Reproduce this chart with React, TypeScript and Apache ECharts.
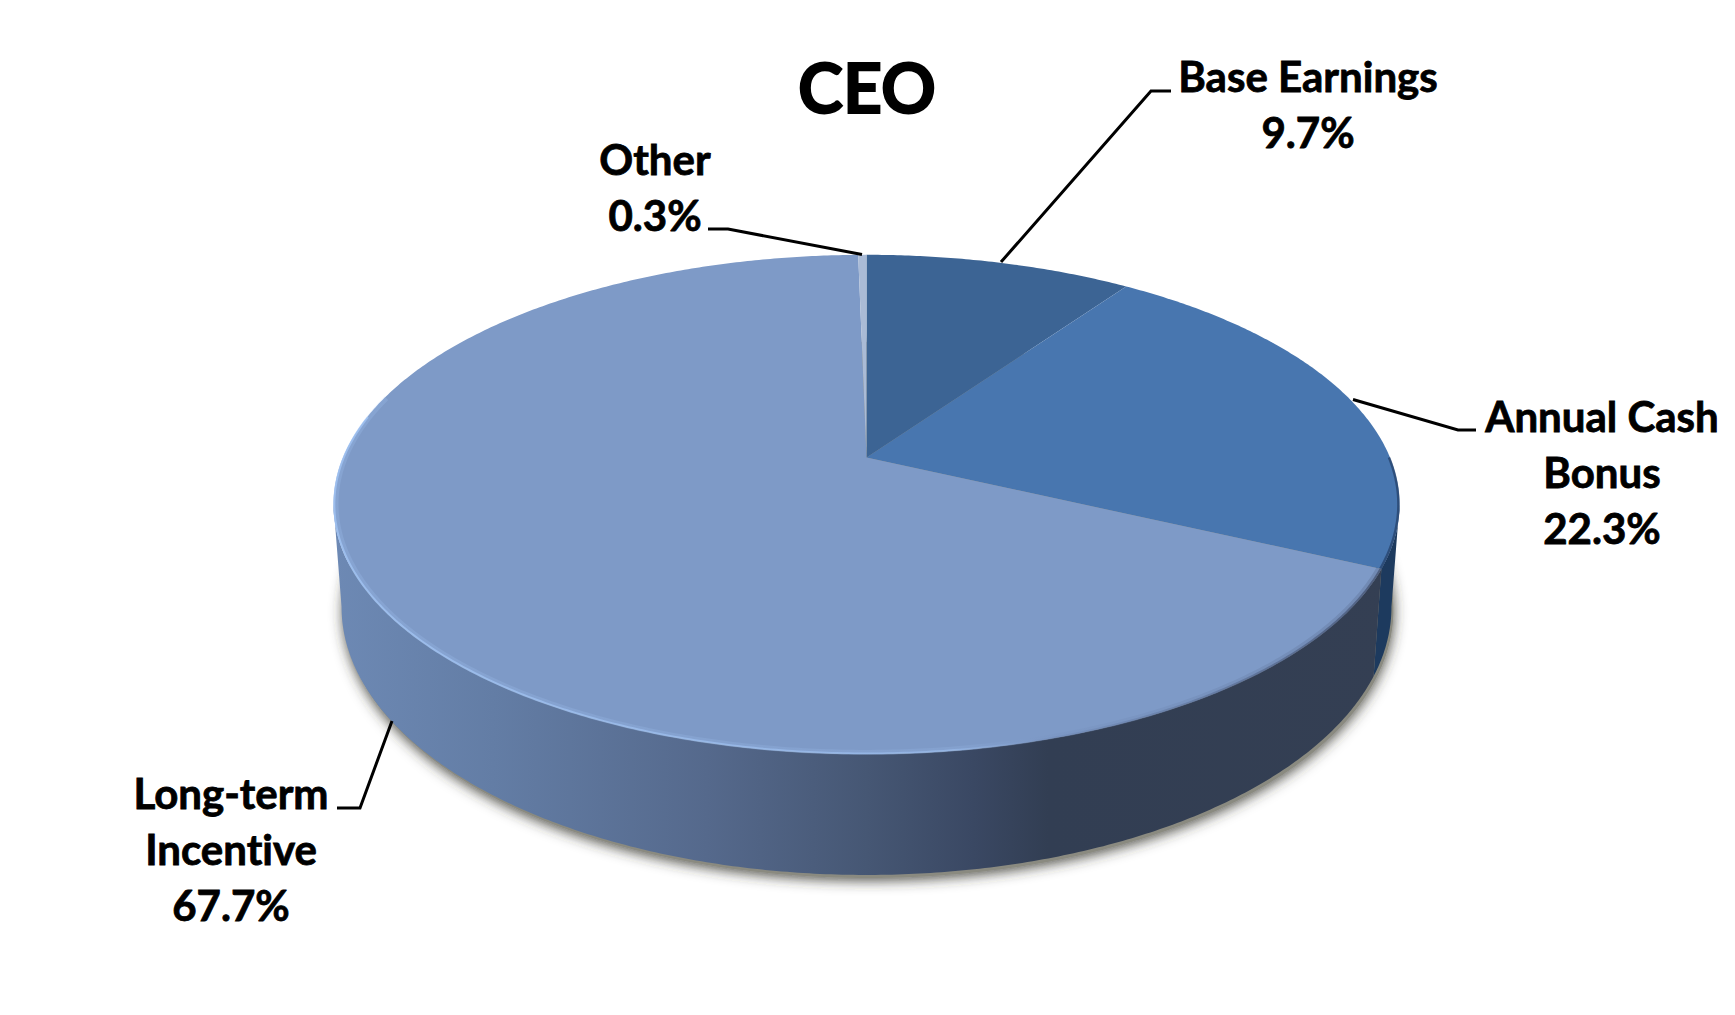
import React, { useEffect, useRef } from "react";
import * as echarts from "echarts";

const chartTitle = "CEO";
const categories = ["Base Earnings", "Annual Cash Bonus", "Long-term Incentive", "Other"];
const labelLines = [["Base Earnings"], ["Annual Cash", "Bonus"], ["Long-term", "Incentive"], ["Other"]];
const shares = [9.7, 22.3, 67.7, 0.3];
const topColors = ["#3c6494", "#4876af", "#7e9ac7", "#aabbd6"];

// Layout of the tilted disc (perspective projection of a circle)
const K = 0.188;
const CX = 866.5;
const TOP = { a: 523.5, b: 240.8, y: 457.5 };
const BASE = { a: 515.6, b: 258.5, y: 556.6 };
const LABEL_FONT = 42;
const labelPos = [
  { x: 1308, y: 75.5 },
  { x: 1602, y: 415.5 },
  { x: 231, y: 792.5 },
  { x: 655, y: 158.5 },
];
const LINE_H = 56.4;
const leaders: number[][][] = [
  [[1001, 262], [1151, 91], [1171, 91]],
  [[1353, 399.5], [1458, 430], [1476, 430]],
  [[392, 721], [360, 808], [337, 808]],
  [[862, 254.5], [728, 229], [708, 229]],
];
const RIGHT_EXTREME = 100.8;
const LEFT_EXTREME = 259.2;

const total = shares.reduce((s, v) => s + v, 0);
const startDeg = (i: number) => (shares.slice(0, i).reduce((s, v) => s + v, 0) / total) * 360;

function proj(deg: number, plane: { a: number; b: number; y: number }, r = 1): number[] {
  const t = (deg * Math.PI) / 180;
  const u = Math.sin(t) * r;
  const v = -Math.cos(t) * r;
  const w = 1 - K * v;
  return [CX + (plane.a * u) / w, plane.y + (plane.b * v) / w];
}
function arc(from: number, to: number, plane: { a: number; b: number; y: number }, r = 1): number[][] {
  const n = Math.max(2, Math.ceil(Math.abs(to - from) * 2));
  const pts: number[][] = [];
  for (let i = 0; i <= n; i++) pts.push(proj(from + ((to - from) * i) / n, plane, r));
  return pts;
}

function renderShadow() {
  const pts = arc(0, 360, BASE).map((p) => [p[0] + 2, p[1] + 3]);
  return {
    type: "polygon",
    shape: { points: pts },
    style: { fill: "#8a8a80", shadowBlur: 14, shadowColor: "rgba(50,50,40,0.9)", shadowOffsetY: 2 },
  };
}

function renderWall(params: any, api: any) {
  const i = params.dataIndex;
  const a = startDeg(i);
  const b = a + (api.value(0) / total) * 360;
  const from = Math.max(a, RIGHT_EXTREME);
  const to = Math.min(b, LEFT_EXTREME);
  if (to <= from) return { type: "group", children: [] };
  const pts = [...arc(from, to, TOP), ...arc(to, from, BASE)];
  const fill =
    i === 2
      ? new echarts.graphic.LinearGradient(
          334, 0, 1400, 0,
          [
            { offset: 0, color: "#6d89b4" },
            { offset: 0.15, color: "#637da5" },
            { offset: 0.35, color: "#55698c" },
            { offset: 0.5, color: "#465774" },
            { offset: 0.6, color: "#3a4863" },
            { offset: 0.67, color: "#323e53" },
            { offset: 1, color: "#343f53" },
          ],
          true
        )
      : "#1d3a5e";
  return { type: "polygon", shape: { points: pts }, style: { fill } };
}

function renderTop(params: any, api: any) {
  const i = params.dataIndex;
  const a = startDeg(i);
  const b = a + (api.value(0) / total) * 360;
  const children: any[] = [
    {
      type: "polygon",
      shape: { points: [[CX, TOP.y], ...arc(a, b, TOP)] },
      style: { fill: topColors[i] },
    },
  ];
  if (i === 2) {
    const grad = (alpha: number) =>
      new echarts.graphic.LinearGradient(
        334, 0, 1400, 0,
        [
          { offset: 0, color: `rgba(165,200,248,${alpha})` },
          { offset: 0.58, color: `rgba(165,200,248,${alpha * 0.7})` },
          { offset: 0.68, color: `rgba(110,135,180,${alpha * 0.6})` },
          { offset: 1, color: `rgba(60,72,100,${alpha})` },
        ],
        true
      );
    children.push(
      { type: "polyline", shape: { points: arc(115.2, 285, TOP, 0.9955) }, style: { fill: "none", stroke: grad(0.22), lineWidth: 5 } },
      { type: "polyline", shape: { points: arc(115.2, 280, TOP, 0.9985) }, style: { fill: "none", stroke: grad(0.7), lineWidth: 2 } }
    );
  }
  if (i === 1) {
    children.push({
      type: "polyline",
      shape: { points: arc(90, b, TOP, 0.998) },
      style: { fill: "none", stroke: "rgba(28,52,88,0.6)", lineWidth: 2.5 },
    });
  }
  return { type: "group", children };
}

function renderLabel(params: any, api: any) {
  const i = params.dataIndex;
  const pos = labelPos[i];
  const text = [...labelLines[i], `${api.value(0).toFixed(1)}%`].join("\n");
  return {
    type: "group",
    children: [
      {
        type: "polyline",
        shape: { points: leaders[i] },
        style: { fill: "none", stroke: "#000", lineWidth: 3 },
      },
      {
        type: "text",
        style: {
          x: pos.x,
          y: pos.y - LINE_H / 2,
          text,
          align: "center",
          verticalAlign: "top",
          lineHeight: LINE_H,
          fontFamily: "Lato",
          fontWeight: 700,
          fontSize: LABEL_FONT,
          fill: "#000",
          stroke: "#000",
          lineWidth: 0.8,
        },
      },
    ],
  };
}

export default function App() {
  const ref = useRef<HTMLDivElement>(null);
  useEffect(() => {
    document.body.style.margin = "0";
    const chart = echarts.init(ref.current!, undefined, { renderer: "svg" });
    const data = shares.map((v, i) => ({ name: categories[i], value: v }));
    chart.setOption({
      animation: false,
      backgroundColor: "#ffffff",
      title: {
        text: chartTitle,
        left: 862,
        top: 81,
        textAlign: "center",
        textVerticalAlign: "middle",
        textStyle: {
          fontFamily: "Lato",
          fontWeight: 700,
          fontSize: 68,
          color: "#000",
          textBorderColor: "#000",
          textBorderWidth: 1.8,
        },
      },
      series: [
        { type: "custom", coordinateSystem: "none", silent: true, data: [1], renderItem: renderShadow },
        { type: "custom", coordinateSystem: "none", silent: true, data, renderItem: renderWall },
        { type: "custom", coordinateSystem: "none", silent: true, data, renderItem: renderTop },
        { type: "custom", coordinateSystem: "none", silent: true, data, renderItem: renderLabel },
      ],
    });
    return () => chart.dispose();
  }, []);
  return (
    <div
      ref={ref}
      style={{ position: "fixed", left: 0, top: 0, width: 1735, height: 1015, fontVariantLigatures: "none" }}
    />
  );
}
